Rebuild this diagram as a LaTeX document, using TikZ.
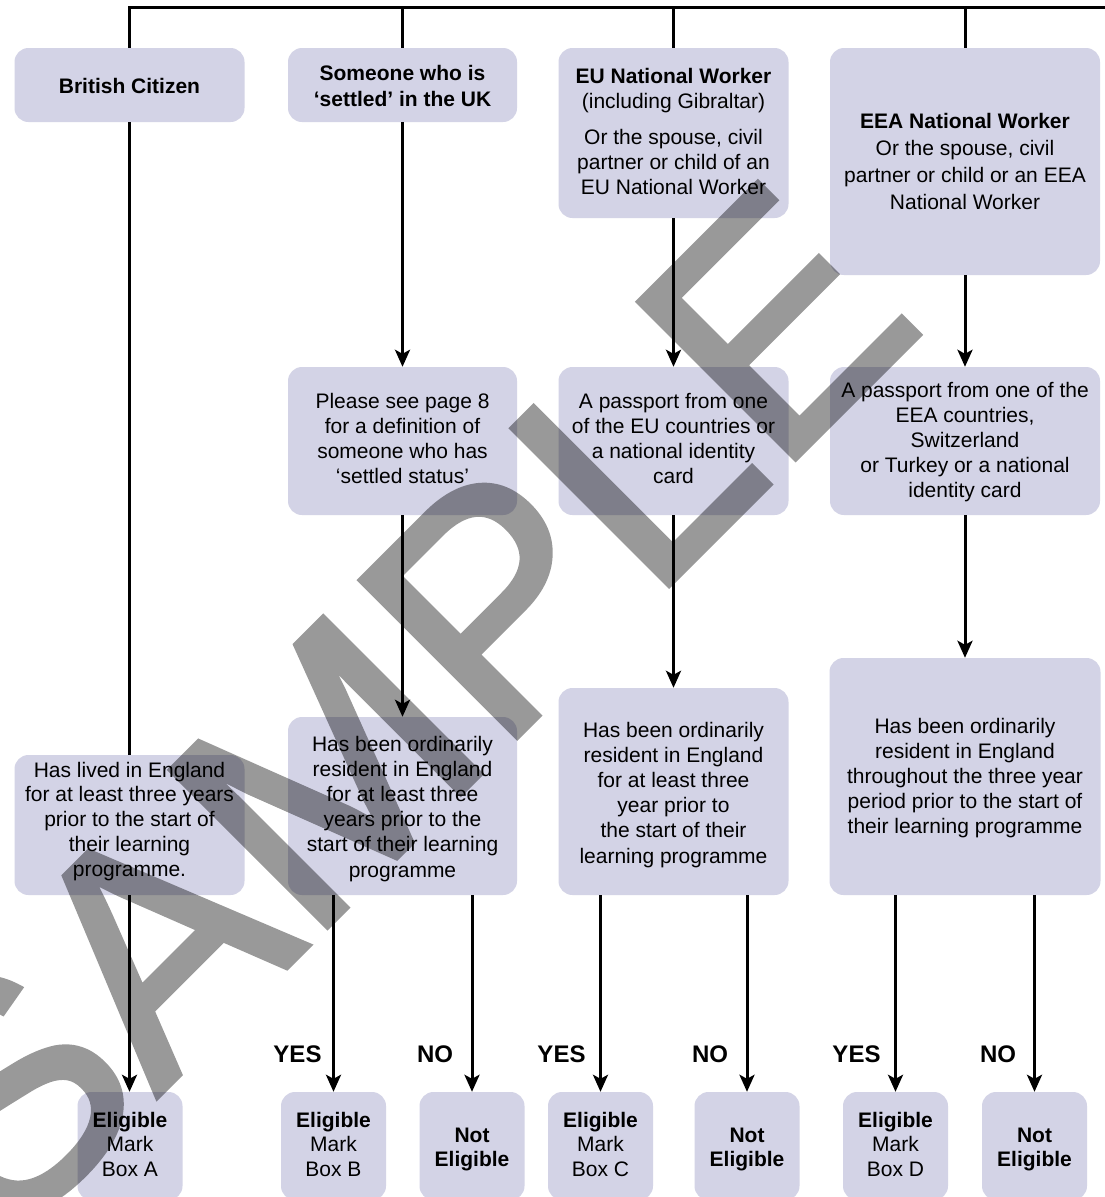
\documentclass[tikz,border=0pt]{standalone}
\usepackage{fontspec}
\setmainfont{Liberation Sans}
\newfontfamily\wmfont[FakeBold=1.8]{Liberation Sans}
\usetikzlibrary{arrows.meta}
\definecolor{boxfill}{RGB}{211,211,230}
\newcommand{\btext}[1]{\begin{tabular}[t]{@{}c@{}}#1\end{tabular}}
\begin{document}
\begin{tikzpicture}[x=1pt,y=-1pt,
  box/.style={fill=boxfill, draw=none, rounded corners=14pt, inner sep=0pt},
  txt/.style={anchor=base, inner sep=0pt, font=\fontsize{21}{25.2}\selectfont},
  lab/.style={anchor=base, inner sep=0pt, font=\fontsize{24}{28}\selectfont\bfseries},
  conn/.style={line width=3pt},
  arr/.style={line width=3pt, -{Stealth[length=17pt,width=15pt,inset=4pt]}},
  wmark/.style={rotate=45, anchor=base west, inner sep=0pt, text=black,
    font=\wmfont\fontsize{322}{322}\selectfont}
]
\fill[white] (0,0) rectangle (1105,1197);
\useasboundingbox (0,0) rectangle (1105,1197);

% boxes
\node[box, minimum width=230pt, minimum height=74pt] (bc) at (129.5,85) {};
\node[box, minimum width=229pt, minimum height=74pt] (so) at (402.5,85) {};
\node[box, minimum width=230pt, minimum height=170pt] (eu) at (673.5,133) {};
\node[box, minimum width=270pt, minimum height=227pt] (eea) at (965,161.5) {};
\node[box, minimum width=229pt, minimum height=148pt] (so2) at (402.5,441) {};
\node[box, minimum width=230pt, minimum height=148pt] (eu2) at (673.5,441) {};
\node[box, minimum width=270pt, minimum height=148pt] (eea2) at (965,441) {};
\node[box, minimum width=230pt, minimum height=140pt] (lived) at (129.5,825) {};
\node[box, minimum width=229pt, minimum height=178pt] (so3) at (402.5,806) {};
\node[box, minimum width=230pt, minimum height=207pt] (eu3) at (673.5,791.5) {};
\node[box, minimum width=271pt, minimum height=237pt] (eea3) at (965,776.5) {};
\node[box, minimum width=105pt, minimum height=108pt] (fa) at (130,1146) {};
\node[box, minimum width=105pt, minimum height=108pt] (fb) at (333.5,1146) {};
\node[box, minimum width=105pt, minimum height=108pt] (nb) at (472,1146) {};
\node[box, minimum width=105pt, minimum height=108pt] (fc) at (600.5,1146) {};
\node[box, minimum width=105pt, minimum height=108pt] (nc) at (747,1146) {};
\node[box, minimum width=105pt, minimum height=108pt] (fd) at (895.5,1146) {};
\node[box, minimum width=105pt, minimum height=108pt] (nd) at (1034.5,1146) {};

% texts
\node[txt] (tbc) at (129.5,93) {\btext{\textbf{British Citizen}}};
\node[txt] (tso) at (402.5,80) {\btext{\textbf{Someone who is}\\[1.5pt]\textbf{‘settled’ in the UK}}};
\node[txt] (teu) at (673.5,83) {\btext{\textbf{EU National Worker}\\(including Gibraltar)\\[11pt]Or the spouse, civil\\partner or child of an\\EU National Worker}};
\node[txt] (teea) at (965,128) {\btext{\textbf{EEA National Worker}\\[2pt]Or the spouse, civil\\[2pt]partner or child or an EEA\\[2pt]National Worker}};
\node[txt] (tso2) at (402.5,408) {\btext{Please see page 8\\for a definition of\\someone who has\\‘settled status’}};
\node[txt] (teu2) at (673.5,408) {\btext{A passport from one\\of the EU countries or\\a national identity\\card}};
\node[txt] (teea2) at (965,397) {\btext{A passport from one of the\\EEA countries,\\Switzerland\\or Turkey or a national\\identity card}};
\node[txt] (tlived) at (129.5,777) {\btext{Has lived in England\\[-0.4pt]for at least three years\\[-0.4pt]prior to the start of\\[-0.4pt]their learning\\[-0.4pt]programme.}};
\node[txt] (tso3) at (402.5,751) {\btext{Has been ordinarily\\resident in England\\for at least three\\years prior to the\\start of their learning\\programme}};
\node[txt] (teu3) at (673.5,737) {\btext{Has been ordinarily\\resident in England\\for at least three\\year prior to\\the start of their\\learning programme}};
\node[txt] (teea3) at (965,733) {\btext{Has been ordinarily\\resident in England\\throughout the three year\\period prior to the start of\\their learning programme}};

\node[txt] (tfa) at (130,1127) {\btext{\textbf{Eligible}\\[-0.7pt]Mark\\[-0.7pt]Box A}};
\node[txt] (tfb) at (333.5,1127) {\btext{\textbf{Eligible}\\[-0.7pt]Mark\\[-0.7pt]Box B}};
\node[txt] (tfc) at (600.5,1127) {\btext{\textbf{Eligible}\\[-0.7pt]Mark\\[-0.7pt]Box C}};
\node[txt] (tfd) at (895.5,1127) {\btext{\textbf{Eligible}\\[-0.7pt]Mark\\[-0.7pt]Box D}};
\node[txt] (tnb) at (472,1142) {\btext{\textbf{Not}\\[-1pt]\textbf{Eligible}}};
\node[txt] (tnc) at (747,1142) {\btext{\textbf{Not}\\[-1pt]\textbf{Eligible}}};
\node[txt] (tnd) at (1034.5,1142) {\btext{\textbf{Not}\\[-1pt]\textbf{Eligible}}};

% labels
\node[lab] (yb) at (297.5,1062) {YES};
\node[lab] (nob) at (435,1062) {NO};
\node[lab] (yc) at (561.5,1062) {YES};
\node[lab] (noc) at (710,1062) {NO};
\node[lab] (yd) at (856.5,1062) {YES};
\node[lab] (nod) at (998,1062) {NO};

% connectors
\coordinate (topR) at (1106,7.5);
\draw[conn] (bc.north) |- (topR);
\draw[conn] (so.north) -- (so.north |- topR);
\draw[conn] (eu.north) -- (eu.north |- topR);
\draw[conn] (eea.north) -- (eea.north |- topR);

\draw[conn] (bc.south) -- (lived.north);
\draw[arr] (lived.south) -- (lived.south |- fa.north);
\draw[arr] (so.south) -- (so2.north);
\draw[arr] (so2.south) -- (so3.north);
\draw[arr] (eu.south) -- (eu2.north);
\draw[arr] (eu2.south) -- (eu3.north);
\draw[arr] (eea.south) -- (eea2.north);
\draw[arr] (eea2.south) -- (eea3.north);

\draw[arr] (fb.north |- so3.south) -- (fb.north);
\draw[arr] (nb.north |- so3.south) -- (nb.north);
\draw[arr] (fc.north |- eu3.south) -- (fc.north);
\draw[arr] (nc.north |- eu3.south) -- (nc.north);
\draw[arr] (fd.north |- eea3.south) -- (fd.north);
\draw[arr] (nd.north |- eea3.south) -- (nd.north);

% watermark
\begin{scope}[transparency group, opacity=0.4]
\node[wmark] (wm) at (5,1249) {SAMPLE};
\end{scope}
\end{tikzpicture}
\end{document}
